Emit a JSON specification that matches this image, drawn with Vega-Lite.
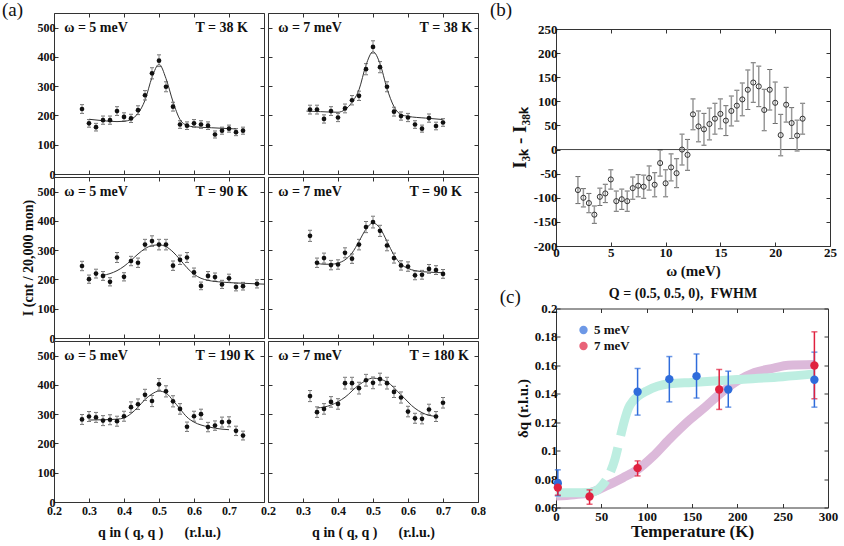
{
"$schema": "https://vega.github.io/schema/vega-lite/v6.json",
"background": "white",
"padding": {"left": 1, "top": 0, "right": 0, "bottom": 0},
"config": {
  "font": "Liberation Serif",
  "view": {"stroke": "#333", "strokeWidth": 1},
  "axis": {"labelFont": "Liberation Serif", "labelFontWeight": "bold", "labelFontSize": 12, "labelColor": "#111", "titleFont": "Liberation Serif", "titleFontWeight": "bold", "titleFontSize": 15, "titleColor": "#111", "tickSize": -4, "tickColor": "#333", "domain": false, "grid": false, "labelPadding": 3, "labelFlush": false, "labelOverlap": false, "minExtent": 0},
  "legend": {"labelFont": "Liberation Serif"}
},
"datasets": {
  "pts": [
    {"p":"TL","q":0.28,"I":222,"e":15},{"p":"TL","q":0.30,"I":173,"e":13},{"p":"TL","q":0.32,"I":160,"e":13},{"p":"TL","q":0.34,"I":184,"e":14},{"p":"TL","q":0.36,"I":184,"e":14},{"p":"TL","q":0.38,"I":215,"e":15},{"p":"TL","q":0.40,"I":195,"e":14},{"p":"TL","q":0.42,"I":190,"e":14},{"p":"TL","q":0.44,"I":218,"e":15},{"p":"TL","q":0.46,"I":269,"e":16},{"p":"TL","q":0.48,"I":344,"e":19},{"p":"TL","q":0.50,"I":387,"e":20},{"p":"TL","q":0.52,"I":298,"e":17},{"p":"TL","q":0.54,"I":230,"e":15},{"p":"TL","q":0.56,"I":169,"e":13},{"p":"TL","q":0.58,"I":165,"e":13},{"p":"TL","q":0.60,"I":173,"e":13},{"p":"TL","q":0.62,"I":169,"e":13},{"p":"TL","q":0.64,"I":165,"e":13},{"p":"TL","q":0.66,"I":135,"e":12},{"p":"TL","q":0.68,"I":148,"e":12},{"p":"TL","q":0.70,"I":155,"e":12},{"p":"TL","q":0.72,"I":143,"e":12},{"p":"TL","q":0.74,"I":148,"e":12},
    {"p":"TR","q":0.32,"I":220,"e":15},{"p":"TR","q":0.34,"I":220,"e":15},{"p":"TR","q":0.36,"I":188,"e":14},{"p":"TR","q":0.38,"I":215,"e":15},{"p":"TR","q":0.40,"I":193,"e":14},{"p":"TR","q":0.42,"I":224,"e":15},{"p":"TR","q":0.44,"I":252,"e":16},{"p":"TR","q":0.46,"I":267,"e":16},{"p":"TR","q":0.48,"I":358,"e":19},{"p":"TR","q":0.50,"I":434,"e":21},{"p":"TR","q":0.52,"I":365,"e":19},{"p":"TR","q":0.54,"I":298,"e":17},{"p":"TR","q":0.56,"I":213,"e":15},{"p":"TR","q":0.58,"I":198,"e":14},{"p":"TR","q":0.60,"I":193,"e":14},{"p":"TR","q":0.62,"I":169,"e":13},{"p":"TR","q":0.64,"I":155,"e":12},{"p":"TR","q":0.66,"I":191,"e":14},{"p":"TR","q":0.68,"I":164,"e":13},{"p":"TR","q":0.70,"I":176,"e":13},
    {"p":"ML","q":0.28,"I":246,"e":16},{"p":"ML","q":0.30,"I":201,"e":14},{"p":"ML","q":0.32,"I":220,"e":15},{"p":"ML","q":0.34,"I":212,"e":15},{"p":"ML","q":0.36,"I":192,"e":14},{"p":"ML","q":0.38,"I":275,"e":17},{"p":"ML","q":0.40,"I":209,"e":14},{"p":"ML","q":0.42,"I":263,"e":16},{"p":"ML","q":0.44,"I":257,"e":16},{"p":"ML","q":0.46,"I":319,"e":18},{"p":"ML","q":0.48,"I":331,"e":18},{"p":"ML","q":0.50,"I":319,"e":18},{"p":"ML","q":0.52,"I":319,"e":18},{"p":"ML","q":0.54,"I":247,"e":16},{"p":"ML","q":0.56,"I":267,"e":16},{"p":"ML","q":0.58,"I":275,"e":17},{"p":"ML","q":0.60,"I":224,"e":15},{"p":"ML","q":0.62,"I":178,"e":13},{"p":"ML","q":0.64,"I":212,"e":15},{"p":"ML","q":0.66,"I":208,"e":14},{"p":"ML","q":0.68,"I":183,"e":14},{"p":"ML","q":0.70,"I":204,"e":14},{"p":"ML","q":0.72,"I":174,"e":13},{"p":"ML","q":0.74,"I":177,"e":13},{"p":"ML","q":0.78,"I":185,"e":14},
    {"p":"MR","q":0.32,"I":349,"e":19},{"p":"MR","q":0.34,"I":257,"e":16},{"p":"MR","q":0.36,"I":273,"e":17},{"p":"MR","q":0.38,"I":249,"e":16},{"p":"MR","q":0.40,"I":251,"e":16},{"p":"MR","q":0.42,"I":291,"e":17},{"p":"MR","q":0.44,"I":271,"e":16},{"p":"MR","q":0.46,"I":319,"e":18},{"p":"MR","q":0.48,"I":379,"e":19},{"p":"MR","q":0.50,"I":396,"e":20},{"p":"MR","q":0.52,"I":366,"e":19},{"p":"MR","q":0.54,"I":316,"e":18},{"p":"MR","q":0.56,"I":273,"e":17},{"p":"MR","q":0.58,"I":248,"e":16},{"p":"MR","q":0.60,"I":244,"e":16},{"p":"MR","q":0.62,"I":214,"e":15},{"p":"MR","q":0.64,"I":216,"e":15},{"p":"MR","q":0.66,"I":236,"e":15},{"p":"MR","q":0.68,"I":232,"e":15},{"p":"MR","q":0.70,"I":219,"e":15},
    {"p":"BL","q":0.28,"I":282,"e":17},{"p":"BL","q":0.30,"I":292,"e":17},{"p":"BL","q":0.32,"I":289,"e":17},{"p":"BL","q":0.34,"I":278,"e":17},{"p":"BL","q":0.36,"I":281,"e":17},{"p":"BL","q":0.38,"I":276,"e":17},{"p":"BL","q":0.40,"I":293,"e":17},{"p":"BL","q":0.42,"I":324,"e":18},{"p":"BL","q":0.44,"I":334,"e":18},{"p":"BL","q":0.46,"I":366,"e":19},{"p":"BL","q":0.48,"I":345,"e":19},{"p":"BL","q":0.50,"I":402,"e":20},{"p":"BL","q":0.52,"I":378,"e":19},{"p":"BL","q":0.54,"I":344,"e":19},{"p":"BL","q":0.56,"I":318,"e":18},{"p":"BL","q":0.58,"I":257,"e":16},{"p":"BL","q":0.60,"I":293,"e":17},{"p":"BL","q":0.62,"I":300,"e":17},{"p":"BL","q":0.64,"I":256,"e":16},{"p":"BL","q":0.66,"I":261,"e":16},{"p":"BL","q":0.68,"I":273,"e":17},{"p":"BL","q":0.70,"I":274,"e":17},{"p":"BL","q":0.72,"I":243,"e":16},{"p":"BL","q":0.74,"I":227,"e":15},
    {"p":"BR","q":0.32,"I":362,"e":19},{"p":"BR","q":0.34,"I":307,"e":18},{"p":"BR","q":0.36,"I":318,"e":18},{"p":"BR","q":0.38,"I":342,"e":18},{"p":"BR","q":0.40,"I":335,"e":18},{"p":"BR","q":0.42,"I":406,"e":20},{"p":"BR","q":0.44,"I":406,"e":20},{"p":"BR","q":0.46,"I":389,"e":20},{"p":"BR","q":0.48,"I":416,"e":20},{"p":"BR","q":0.50,"I":407,"e":20},{"p":"BR","q":0.52,"I":420,"e":20},{"p":"BR","q":0.54,"I":406,"e":20},{"p":"BR","q":0.56,"I":376,"e":19},{"p":"BR","q":0.58,"I":357,"e":19},{"p":"BR","q":0.60,"I":309,"e":18},{"p":"BR","q":0.62,"I":286,"e":17},{"p":"BR","q":0.64,"I":284,"e":17},{"p":"BR","q":0.66,"I":316,"e":18},{"p":"BR","q":0.68,"I":292,"e":17},{"p":"BR","q":0.70,"I":339,"e":18}
  ],
  "fit": [
    {"p":"TL","q":0.30,"I":187},{"p":"TL","q":0.34,"I":182},{"p":"TL","q":0.38,"I":179},{"p":"TL","q":0.40,"I":180},{"p":"TL","q":0.42,"I":187},{"p":"TL","q":0.44,"I":207},{"p":"TL","q":0.46,"I":252},{"p":"TL","q":0.48,"I":330},{"p":"TL","q":0.50,"I":375},{"p":"TL","q":0.52,"I":326},{"p":"TL","q":0.54,"I":247},{"p":"TL","q":0.56,"I":186},{"p":"TL","q":0.58,"I":166},{"p":"TL","q":0.60,"I":161},{"p":"TL","q":0.65,"I":158},{"p":"TL","q":0.70,"I":155},{"p":"TL","q":0.72,"I":154},
    {"p":"TR","q":0.31,"I":215},{"p":"TR","q":0.35,"I":213},{"p":"TR","q":0.40,"I":211},{"p":"TR","q":0.42,"I":220},{"p":"TR","q":0.44,"I":245},{"p":"TR","q":0.46,"I":288},{"p":"TR","q":0.48,"I":372},{"p":"TR","q":0.50,"I":418},{"p":"TR","q":0.52,"I":377},{"p":"TR","q":0.54,"I":292},{"p":"TR","q":0.56,"I":230},{"p":"TR","q":0.58,"I":203},{"p":"TR","q":0.60,"I":197},{"p":"TR","q":0.65,"I":191},{"p":"TR","q":0.70,"I":186},
    {"p":"ML","q":0.34,"I":214},{"p":"ML","q":0.36,"I":220},{"p":"ML","q":0.38,"I":230},{"p":"ML","q":0.40,"I":245},{"p":"ML","q":0.42,"I":265},{"p":"ML","q":0.44,"I":287},{"p":"ML","q":0.46,"I":305},{"p":"ML","q":0.48,"I":316},{"p":"ML","q":0.50,"I":318},{"p":"ML","q":0.52,"I":312},{"p":"ML","q":0.54,"I":294},{"p":"ML","q":0.56,"I":268},{"p":"ML","q":0.58,"I":240},{"p":"ML","q":0.60,"I":218},{"p":"ML","q":0.62,"I":204},{"p":"ML","q":0.64,"I":197},{"p":"ML","q":0.68,"I":191},{"p":"ML","q":0.72,"I":188},{"p":"ML","q":0.76,"I":186},{"p":"ML","q":0.80,"I":184},
    {"p":"MR","q":0.34,"I":255},{"p":"MR","q":0.36,"I":252},{"p":"MR","q":0.38,"I":252},{"p":"MR","q":0.40,"I":256},{"p":"MR","q":0.42,"I":267},{"p":"MR","q":0.44,"I":290},{"p":"MR","q":0.46,"I":330},{"p":"MR","q":0.48,"I":372},{"p":"MR","q":0.50,"I":393},{"p":"MR","q":0.52,"I":375},{"p":"MR","q":0.54,"I":330},{"p":"MR","q":0.56,"I":283},{"p":"MR","q":0.58,"I":252},{"p":"MR","q":0.60,"I":238},{"p":"MR","q":0.62,"I":230},{"p":"MR","q":0.66,"I":225},{"p":"MR","q":0.70,"I":223},
    {"p":"BL","q":0.30,"I":280},{"p":"BL","q":0.34,"I":281},{"p":"BL","q":0.38,"I":283},{"p":"BL","q":0.40,"I":287},{"p":"BL","q":0.42,"I":302},{"p":"BL","q":0.44,"I":324},{"p":"BL","q":0.46,"I":350},{"p":"BL","q":0.48,"I":369},{"p":"BL","q":0.50,"I":379},{"p":"BL","q":0.52,"I":372},{"p":"BL","q":0.54,"I":347},{"p":"BL","q":0.56,"I":318},{"p":"BL","q":0.58,"I":290},{"p":"BL","q":0.60,"I":273},{"p":"BL","q":0.62,"I":263},{"p":"BL","q":0.64,"I":257},{"p":"BL","q":0.66,"I":252},{"p":"BL","q":0.70,"I":247},
    {"p":"BR","q":0.34,"I":321},{"p":"BR","q":0.38,"I":331},{"p":"BR","q":0.42,"I":358},{"p":"BR","q":0.46,"I":400},{"p":"BR","q":0.50,"I":423},{"p":"BR","q":0.54,"I":410},{"p":"BR","q":0.58,"I":366},{"p":"BR","q":0.62,"I":320},{"p":"BR","q":0.66,"I":296},{"p":"BR","q":0.68,"I":293}
  ],
  "lab": [
    {"p":"TL","w":"ω = 5 meV","t":"T = 38 K"},{"p":"TR","w":"ω = 7 meV","t":"T = 38 K"},
    {"p":"ML","w":"ω = 5 meV","t":"T = 90 K"},{"p":"MR","w":"ω = 7 meV","t":"T = 90 K"},
    {"p":"BL","w":"ω = 5 meV","t":"T = 190 K"},{"p":"BR","w":"ω = 7 meV","t":"T = 180 K"}
  ],
  "tag": [{"id":"a","txt":"(a)"},{"id":"b","txt":"(b)"},{"id":"c","txt":"(c)"},{"id":"q","txt":"Q = (0.5, 0.5, 0),\u00a0\u00a0FWHM"}],
  "b": [
    {"w":2.0,"d":-84,"e":28},{"w":2.5,"d":-100,"e":19},{"w":3.0,"d":-111,"e":20},{"w":3.5,"d":-135,"e":18},{"w":4.0,"d":-98,"e":18},{"w":4.5,"d":-91,"e":19},{"w":5.0,"d":-62,"e":20},{"w":5.5,"d":-107,"e":21},{"w":6.0,"d":-103,"e":21},{"w":6.5,"d":-107,"e":21},{"w":7.0,"d":-80,"e":23},{"w":7.5,"d":-75,"e":23},{"w":8.0,"d":-77,"e":24},{"w":8.5,"d":-59,"e":25},{"w":9.0,"d":-73,"e":25},{"w":9.5,"d":-28,"e":27},{"w":10.0,"d":-70,"e":28},{"w":10.5,"d":-37,"e":28},{"w":11.0,"d":-49,"e":30},{"w":11.5,"d":0,"e":32},{"w":12.0,"d":-11,"e":32},{"w":12.5,"d":73,"e":32},{"w":13.0,"d":48,"e":32},{"w":13.5,"d":42,"e":33},{"w":14.0,"d":53,"e":33},{"w":14.5,"d":64,"e":32},{"w":15.0,"d":74,"e":31},{"w":15.5,"d":60,"e":31},{"w":16.0,"d":80,"e":31},{"w":16.5,"d":91,"e":32},{"w":17.0,"d":104,"e":34},{"w":17.5,"d":124,"e":41},{"w":18.0,"d":139,"e":41},{"w":18.5,"d":131,"e":42},{"w":19.0,"d":82,"e":43},{"w":19.5,"d":124,"e":42},{"w":20.0,"d":97,"e":43},{"w":20.5,"d":30,"e":43},{"w":21.0,"d":93,"e":36},{"w":21.5,"d":55,"e":32},{"w":22.0,"d":29,"e":32},{"w":22.5,"d":64,"e":32}
  ],
  "c": [
    {"s":"5 meV","T":2,"dq":0.0771,"lo":0.0682,"hi":0.0865},{"s":"5 meV","T":90,"dq":0.1414,"lo":0.125,"hi":0.1578},{"s":"5 meV","T":125,"dq":0.1503,"lo":0.1343,"hi":0.1662},{"s":"5 meV","T":155,"dq":0.1524,"lo":0.137,"hi":0.168},{"s":"5 meV","T":190,"dq":0.143,"lo":0.1306,"hi":0.1559},{"s":"5 meV","T":285,"dq":0.1499,"lo":0.1306,"hi":0.1693},
    {"s":"7 meV","T":2,"dq":0.074,"lo":0.0687,"hi":0.0787},{"s":"7 meV","T":37,"dq":0.0677,"lo":0.0623,"hi":0.0724},{"s":"7 meV","T":90,"dq":0.0877,"lo":0.0822,"hi":0.0928},{"s":"7 meV","T":180,"dq":0.143,"lo":0.129,"hi":0.1571},{"s":"7 meV","T":285,"dq":0.1599,"lo":0.1365,"hi":0.1836}
  ],
  "cfit": [
    {"s":"5 meV","T":0,"dq":0.0703},{"s":"5 meV","T":20,"dq":0.0703},{"s":"5 meV","T":37,"dq":0.0705},{"s":"5 meV","T":45,"dq":0.072},{"s":"5 meV","T":50,"dq":0.075},{"s":"5 meV","T":55,"dq":0.079},{"s":"5 meV","T":60,"dq":0.085},{"s":"5 meV","T":65,"dq":0.094},{"s":"5 meV","T":70,"dq":0.107},{"s":"5 meV","T":75,"dq":0.12},{"s":"5 meV","T":80,"dq":0.13},{"s":"5 meV","T":85,"dq":0.135},{"s":"5 meV","T":90,"dq":0.138},{"s":"5 meV","T":100,"dq":0.142},{"s":"5 meV","T":125,"dq":0.147},{"s":"5 meV","T":150,"dq":0.148},{"s":"5 meV","T":200,"dq":0.15},{"s":"5 meV","T":250,"dq":0.152},{"s":"5 meV","T":285,"dq":0.154},
    {"s":"7 meV","T":0,"dq":0.068},{"s":"7 meV","T":20,"dq":0.069},{"s":"7 meV","T":37,"dq":0.0703},{"s":"7 meV","T":55,"dq":0.075},{"s":"7 meV","T":74,"dq":0.081},{"s":"7 meV","T":90,"dq":0.0867},{"s":"7 meV","T":107,"dq":0.096},{"s":"7 meV","T":125,"dq":0.108},{"s":"7 meV","T":148,"dq":0.122},{"s":"7 meV","T":165,"dq":0.131},{"s":"7 meV","T":180,"dq":0.1395},{"s":"7 meV","T":200,"dq":0.149},{"s":"7 meV","T":219,"dq":0.155},{"s":"7 meV","T":240,"dq":0.158},{"s":"7 meV","T":256,"dq":0.16},{"s":"7 meV","T":285,"dq":0.1606}
  ]
},
"columns": 2,
"align": "none",
"spacing": 4,
"resolve": {"scale": {"color": "independent"}, "legend": {"color": "independent"}},
"concat": [
{
  "columns": 2,
  "spacing": {"row": 3, "column": 4},
  "bounds": "flush",
  "concat": [
    {"width": 210, "height": 161,
     "layer": [
      {"data": {"name": "fit"}, "transform": [{"filter": "datum.p == 'TL'"}], "mark": {"type": "line", "color": "#333", "strokeWidth": 1, "interpolate": "monotone"},
       "encoding": {"x": {"field": "q", "type": "quantitative", "scale": {"domain": [0.2, 0.8]}, "axis": {"orient": "top", "values": [0.2,0.3,0.4,0.5,0.6,0.7,0.8], "labels": false, "title": null}},
                    "y": {"field": "I", "type": "quantitative", "scale": {"domain": [0, 550]}, "axis": {"orient": "right", "values": [0,100,200,300,400,500], "labels": false, "title": null}}}},
      {"data": {"name": "pts"}, "transform": [{"filter": "datum.p == 'TL'"}], "mark": {"type": "errorbar", "ticks": {"size": 4, "color": "#333"}, "rule": {"color": "#999", "strokeWidth": 1.2}},
       "encoding": {"x": {"field": "q", "type": "quantitative", "axis": null}, "y": {"field": "I", "type": "quantitative", "axis": null}, "yError": {"field": "e"}}},
      {"data": {"name": "pts"}, "transform": [{"filter": "datum.p == 'TL'"}], "mark": {"type": "circle", "size": 22, "color": "#111", "opacity": 1},
       "encoding": {"x": {"field": "q", "type": "quantitative", "axis": {"orient": "bottom", "values": [0.2,0.3,0.4,0.5,0.6,0.7,0.8], "labels": false, "title": null}},
                    "y": {"field": "I", "type": "quantitative", "axis": {"orient": "left", "values": [0,100,200,300,400,500], "title": null}}}},
      {"data": {"name": "lab"}, "transform": [{"filter": "datum.p == 'TL'"}], "mark": {"type": "text", "align": "left", "baseline": "middle", "fontSize": 14, "fontWeight": "bold", "color": "#111"},
       "encoding": {"x": {"datum": 0.229, "axis": null}, "y": {"datum": 500, "axis": null}, "text": {"field": "w"}}},
      {"data": {"name": "lab"}, "transform": [{"filter": "datum.p == 'TL'"}], "mark": {"type": "text", "align": "right", "baseline": "middle", "fontSize": 14, "fontWeight": "bold", "color": "#111"},
       "encoding": {"x": {"datum": 0.754, "axis": null}, "y": {"datum": 500, "axis": null}, "text": {"field": "t"}}},
      {"data": {"name": "tag"}, "transform": [{"filter": "datum.id == 'a'"}], "mark": {"type": "text", "align": "left", "baseline": "middle", "fontSize": 19, "color": "#111"},
       "encoding": {"x": {"datum": 0.0514, "axis": null}, "y": {"datum": 560, "axis": null}, "text": {"field": "txt"}}}
     ],
     "resolve": {"axis": {"x": "independent", "y": "independent"}}},
    {"width": 210, "height": 161,
     "layer": [
      {"data": {"name": "fit"}, "transform": [{"filter": "datum.p == 'TR'"}], "mark": {"type": "line", "color": "#333", "strokeWidth": 1, "interpolate": "monotone"},
       "encoding": {"x": {"field": "q", "type": "quantitative", "scale": {"domain": [0.2, 0.8]}, "axis": {"orient": "top", "values": [0.2,0.3,0.4,0.5,0.6,0.7,0.8], "labels": false, "title": null}},
                    "y": {"field": "I", "type": "quantitative", "scale": {"domain": [0, 550]}, "axis": {"orient": "right", "values": [0,100,200,300,400,500], "labels": false, "title": null}}}},
      {"data": {"name": "pts"}, "transform": [{"filter": "datum.p == 'TR'"}], "mark": {"type": "errorbar", "ticks": {"size": 4, "color": "#333"}, "rule": {"color": "#999", "strokeWidth": 1.2}},
       "encoding": {"x": {"field": "q", "type": "quantitative", "axis": null}, "y": {"field": "I", "type": "quantitative", "axis": null}, "yError": {"field": "e"}}},
      {"data": {"name": "pts"}, "transform": [{"filter": "datum.p == 'TR'"}], "mark": {"type": "circle", "size": 22, "color": "#111", "opacity": 1},
       "encoding": {"x": {"field": "q", "type": "quantitative", "axis": {"orient": "bottom", "values": [0.2,0.3,0.4,0.5,0.6,0.7,0.8], "labels": false, "title": null}},
                    "y": {"field": "I", "type": "quantitative", "axis": {"orient": "left", "values": [0,100,200,300,400,500], "labels": false, "title": null}}}},
      {"data": {"name": "lab"}, "transform": [{"filter": "datum.p == 'TR'"}], "mark": {"type": "text", "align": "left", "baseline": "middle", "fontSize": 14, "fontWeight": "bold", "color": "#111"},
       "encoding": {"x": {"datum": 0.229, "axis": null}, "y": {"datum": 500, "axis": null}, "text": {"field": "w"}}},
      {"data": {"name": "lab"}, "transform": [{"filter": "datum.p == 'TR'"}], "mark": {"type": "text", "align": "right", "baseline": "middle", "fontSize": 14, "fontWeight": "bold", "color": "#111"},
       "encoding": {"x": {"datum": 0.783, "axis": null}, "y": {"datum": 500, "axis": null}, "text": {"field": "t"}}}
     ],
     "resolve": {"axis": {"x": "independent", "y": "independent"}}},
    {"width": 210, "height": 161,
     "layer": [
      {"data": {"name": "fit"}, "transform": [{"filter": "datum.p == 'ML'"}], "mark": {"type": "line", "color": "#333", "strokeWidth": 1, "interpolate": "monotone"},
       "encoding": {"x": {"field": "q", "type": "quantitative", "scale": {"domain": [0.2, 0.8]}, "axis": {"orient": "top", "values": [0.2,0.3,0.4,0.5,0.6,0.7,0.8], "labels": false, "title": null}},
                    "y": {"field": "I", "type": "quantitative", "scale": {"domain": [0, 550]}, "axis": {"orient": "right", "values": [0,100,200,300,400,500], "labels": false, "title": null}}}},
      {"data": {"name": "pts"}, "transform": [{"filter": "datum.p == 'ML'"}], "mark": {"type": "errorbar", "ticks": {"size": 4, "color": "#333"}, "rule": {"color": "#999", "strokeWidth": 1.2}},
       "encoding": {"x": {"field": "q", "type": "quantitative", "axis": null}, "y": {"field": "I", "type": "quantitative", "axis": null}, "yError": {"field": "e"}}},
      {"data": {"name": "pts"}, "transform": [{"filter": "datum.p == 'ML'"}], "mark": {"type": "circle", "size": 22, "color": "#111", "opacity": 1},
       "encoding": {"x": {"field": "q", "type": "quantitative", "axis": {"orient": "bottom", "values": [0.2,0.3,0.4,0.5,0.6,0.7,0.8], "labels": false, "title": null}},
                    "y": {"field": "I", "type": "quantitative", "axis": {"orient": "left", "values": [0,100,200,300,400,500], "title": "I (cnt / 20,000 mon)", "titleFontSize": 14, "titlePadding": 2}}}},
      {"data": {"name": "lab"}, "transform": [{"filter": "datum.p == 'ML'"}], "mark": {"type": "text", "align": "left", "baseline": "middle", "fontSize": 14, "fontWeight": "bold", "color": "#111"},
       "encoding": {"x": {"datum": 0.229, "axis": null}, "y": {"datum": 500, "axis": null}, "text": {"field": "w"}}},
      {"data": {"name": "lab"}, "transform": [{"filter": "datum.p == 'ML'"}], "mark": {"type": "text", "align": "right", "baseline": "middle", "fontSize": 14, "fontWeight": "bold", "color": "#111"},
       "encoding": {"x": {"datum": 0.754, "axis": null}, "y": {"datum": 500, "axis": null}, "text": {"field": "t"}}}
     ],
     "resolve": {"axis": {"x": "independent", "y": "independent"}}},
    {"width": 210, "height": 161,
     "layer": [
      {"data": {"name": "fit"}, "transform": [{"filter": "datum.p == 'MR'"}], "mark": {"type": "line", "color": "#333", "strokeWidth": 1, "interpolate": "monotone"},
       "encoding": {"x": {"field": "q", "type": "quantitative", "scale": {"domain": [0.2, 0.8]}, "axis": {"orient": "top", "values": [0.2,0.3,0.4,0.5,0.6,0.7,0.8], "labels": false, "title": null}},
                    "y": {"field": "I", "type": "quantitative", "scale": {"domain": [0, 550]}, "axis": {"orient": "right", "values": [0,100,200,300,400,500], "labels": false, "title": null}}}},
      {"data": {"name": "pts"}, "transform": [{"filter": "datum.p == 'MR'"}], "mark": {"type": "errorbar", "ticks": {"size": 4, "color": "#333"}, "rule": {"color": "#999", "strokeWidth": 1.2}},
       "encoding": {"x": {"field": "q", "type": "quantitative", "axis": null}, "y": {"field": "I", "type": "quantitative", "axis": null}, "yError": {"field": "e"}}},
      {"data": {"name": "pts"}, "transform": [{"filter": "datum.p == 'MR'"}], "mark": {"type": "circle", "size": 22, "color": "#111", "opacity": 1},
       "encoding": {"x": {"field": "q", "type": "quantitative", "axis": {"orient": "bottom", "values": [0.2,0.3,0.4,0.5,0.6,0.7,0.8], "labels": false, "title": null}},
                    "y": {"field": "I", "type": "quantitative", "axis": {"orient": "left", "values": [0,100,200,300,400,500], "labels": false, "title": null}}}},
      {"data": {"name": "lab"}, "transform": [{"filter": "datum.p == 'MR'"}], "mark": {"type": "text", "align": "left", "baseline": "middle", "fontSize": 14, "fontWeight": "bold", "color": "#111"},
       "encoding": {"x": {"datum": 0.229, "axis": null}, "y": {"datum": 500, "axis": null}, "text": {"field": "w"}}},
      {"data": {"name": "lab"}, "transform": [{"filter": "datum.p == 'MR'"}], "mark": {"type": "text", "align": "right", "baseline": "middle", "fontSize": 14, "fontWeight": "bold", "color": "#111"},
       "encoding": {"x": {"datum": 0.754, "axis": null}, "y": {"datum": 500, "axis": null}, "text": {"field": "t"}}}
     ],
     "resolve": {"axis": {"x": "independent", "y": "independent"}}},
    {"width": 210, "height": 161,
     "layer": [
      {"data": {"name": "fit"}, "transform": [{"filter": "datum.p == 'BL'"}], "mark": {"type": "line", "color": "#333", "strokeWidth": 1, "interpolate": "monotone"},
       "encoding": {"x": {"field": "q", "type": "quantitative", "scale": {"domain": [0.2, 0.8]}, "axis": {"orient": "top", "values": [0.2,0.3,0.4,0.5,0.6,0.7,0.8], "labels": false, "title": null}},
                    "y": {"field": "I", "type": "quantitative", "scale": {"domain": [0, 550]}, "axis": {"orient": "right", "values": [0,100,200,300,400,500], "labels": false, "title": null}}}},
      {"data": {"name": "pts"}, "transform": [{"filter": "datum.p == 'BL'"}], "mark": {"type": "errorbar", "ticks": {"size": 4, "color": "#333"}, "rule": {"color": "#999", "strokeWidth": 1.2}},
       "encoding": {"x": {"field": "q", "type": "quantitative", "axis": null}, "y": {"field": "I", "type": "quantitative", "axis": null}, "yError": {"field": "e"}}},
      {"data": {"name": "pts"}, "transform": [{"filter": "datum.p == 'BL'"}], "mark": {"type": "circle", "size": 22, "color": "#111", "opacity": 1},
       "encoding": {"x": {"field": "q", "type": "quantitative", "axis": {"orient": "bottom", "values": [0.2,0.3,0.4,0.5,0.6,0.7,0.8], "labelPadding": 7, "labelExpr": "datum.value > 0.75 ? '' : datum.label", "title": "q in ( q,  q )\u00a0\u00a0\u00a0\u00a0\u00a0\u00a0(r.l.u.)", "titleFontSize": 14, "titlePadding": 9}},
                    "y": {"field": "I", "type": "quantitative", "axis": {"orient": "left", "values": [0,100,200,300,400,500], "title": null}}}},
      {"data": {"name": "lab"}, "transform": [{"filter": "datum.p == 'BL'"}], "mark": {"type": "text", "align": "left", "baseline": "middle", "fontSize": 14, "fontWeight": "bold", "color": "#111"},
       "encoding": {"x": {"datum": 0.229, "axis": null}, "y": {"datum": 500, "axis": null}, "text": {"field": "w"}}},
      {"data": {"name": "lab"}, "transform": [{"filter": "datum.p == 'BL'"}], "mark": {"type": "text", "align": "right", "baseline": "middle", "fontSize": 14, "fontWeight": "bold", "color": "#111"},
       "encoding": {"x": {"datum": 0.774, "axis": null}, "y": {"datum": 500, "axis": null}, "text": {"field": "t"}}}
     ],
     "resolve": {"axis": {"x": "independent", "y": "independent"}}},
    {"width": 210, "height": 161,
     "layer": [
      {"data": {"name": "fit"}, "transform": [{"filter": "datum.p == 'BR'"}], "mark": {"type": "line", "color": "#333", "strokeWidth": 1, "interpolate": "monotone"},
       "encoding": {"x": {"field": "q", "type": "quantitative", "scale": {"domain": [0.2, 0.8]}, "axis": {"orient": "top", "values": [0.2,0.3,0.4,0.5,0.6,0.7,0.8], "labels": false, "title": null}},
                    "y": {"field": "I", "type": "quantitative", "scale": {"domain": [0, 550]}, "axis": {"orient": "right", "values": [0,100,200,300,400,500], "labels": false, "title": null}}}},
      {"data": {"name": "pts"}, "transform": [{"filter": "datum.p == 'BR'"}], "mark": {"type": "errorbar", "ticks": {"size": 4, "color": "#333"}, "rule": {"color": "#999", "strokeWidth": 1.2}},
       "encoding": {"x": {"field": "q", "type": "quantitative", "axis": null}, "y": {"field": "I", "type": "quantitative", "axis": null}, "yError": {"field": "e"}}},
      {"data": {"name": "pts"}, "transform": [{"filter": "datum.p == 'BR'"}], "mark": {"type": "circle", "size": 22, "color": "#111", "opacity": 1},
       "encoding": {"x": {"field": "q", "type": "quantitative", "axis": {"orient": "bottom", "values": [0.2,0.3,0.4,0.5,0.6,0.7,0.8], "labelPadding": 7, "title": "q in ( q,  q )\u00a0\u00a0\u00a0\u00a0\u00a0\u00a0(r.l.u.)", "titleFontSize": 14, "titlePadding": 9}},
                    "y": {"field": "I", "type": "quantitative", "axis": {"orient": "left", "values": [0,100,200,300,400,500], "labels": false, "title": null}}}},
      {"data": {"name": "lab"}, "transform": [{"filter": "datum.p == 'BR'"}], "mark": {"type": "text", "align": "left", "baseline": "middle", "fontSize": 14, "fontWeight": "bold", "color": "#111"},
       "encoding": {"x": {"datum": 0.229, "axis": null}, "y": {"datum": 500, "axis": null}, "text": {"field": "w"}}},
      {"data": {"name": "lab"}, "transform": [{"filter": "datum.p == 'BR'"}], "mark": {"type": "text", "align": "right", "baseline": "middle", "fontSize": 14, "fontWeight": "bold", "color": "#111"},
       "encoding": {"x": {"datum": 0.774, "axis": null}, "y": {"datum": 500, "axis": null}, "text": {"field": "t"}}}
     ],
     "resolve": {"axis": {"x": "independent", "y": "independent"}}}
  ]
},
{
  "spacing": 7.5,
  "resolve": {"scale": {"color": "independent"}, "legend": {"color": "independent"}},
  "vconcat": [
    {
     "spacing": 8,
     "bounds": "flush",
     "vconcat": [
      {"width": 274, "height": 8, "view": {"stroke": null},
       "data": {"name": "tag"}, "transform": [{"filter": "datum.id == 'b'"}],
       "mark": {"type": "text", "align": "left", "baseline": "middle", "fontSize": 19, "color": "#111"},
       "encoding": {"x": {"datum": -6.02, "type": "quantitative", "scale": {"domain": [0, 25], "nice": false}, "axis": null}, "y": {"datum": 11, "type": "quantitative", "scale": {"domain": [0, 8], "nice": false}, "axis": null}, "text": {"field": "txt"}}},
      {"width": 274, "height": 217,
       "layer": [
        {"data": {"values": [{}]}, "mark": {"type": "rule", "color": "#444", "strokeWidth": 1},
         "encoding": {"x": {"datum": 0, "scale": {"domain": [0, 25]}, "axis": {"orient": "top", "values": [0,5,10,15,20,25], "labels": false, "title": null}}, "x2": {"datum": 25},
                      "y": {"datum": 0, "scale": {"domain": [-200, 250]}, "axis": {"orient": "right", "values": [-200,-150,-100,-50,0,50,100,150,200,250], "labels": false, "title": null}}}},
        {"data": {"name": "b"}, "mark": {"type": "errorbar", "ticks": {"size": 5, "color": "#222"}, "rule": {"color": "#999", "strokeWidth": 1.5}},
         "encoding": {"x": {"field": "w", "type": "quantitative", "axis": null, "scale": {"domain": [0, 25]}}, "y": {"field": "d", "type": "quantitative", "axis": null, "scale": {"domain": [-200, 250]}}, "yError": {"field": "e"}}},
        {"data": {"name": "b"}, "mark": {"type": "point", "shape": "circle", "filled": false, "size": 26, "color": "#333", "strokeWidth": 1, "opacity": 1},
         "encoding": {"x": {"field": "w", "type": "quantitative", "scale": {"domain": [0, 25]}, "axis": {"orient": "bottom", "values": [0,5,10,15,20,25], "labelFontSize": 13, "labelPadding": 4, "title": "ω (meV)", "titlePadding": 4}},
                      "y": {"field": "d", "type": "quantitative", "scale": {"domain": [-200, 250]}, "axis": {"orient": "left", "values": [-200,-150,-100,-50,0,50,100,150,200,250], "labelFontSize": 13, "labelExpr": "datum.value < 0 ? '-' + abs(datum.value) : datum.label", "title": "I₃ₖ - I₃₈ₖ", "titleFontSize": 19, "titlePadding": 4}}}}
       ],
       "resolve": {"axis": {"x": "independent", "y": "independent"}}}
     ]
    },
    {"width": 272, "height": 199,
     "layer": [
      {"data": {"name": "cfit"}, "transform": [{"filter": "datum.s == '7 meV'"}], "mark": {"type": "line", "color": "#dcb9da", "strokeWidth": 9, "strokeCap": "butt", "interpolate": "monotone"},
       "encoding": {"x": {"field": "T", "type": "quantitative", "axis": null, "scale": {"domain": [0, 300]}}, "y": {"field": "dq", "type": "quantitative", "axis": null, "scale": {"domain": [0.06, 0.2], "zero": false}}}},
      {"data": {"name": "cfit"}, "transform": [{"filter": "datum.s == '5 meV'"}], "mark": {"type": "line", "color": "#bdeee1", "strokeWidth": 9, "strokeCap": "butt", "interpolate": "monotone", "strokeDash": [55, 10, 25, 12, 3000]},
       "encoding": {"x": {"field": "T", "type": "quantitative", "axis": null, "scale": {"domain": [0, 300]}}, "y": {"field": "dq", "type": "quantitative", "axis": null, "scale": {"domain": [0.06, 0.2], "zero": false}}}},
      {"data": {"name": "c"}, "mark": {"type": "errorbar", "ticks": {"size": 6}, "rule": {"strokeWidth": 1.5}, "thickness": 1.5},
       "encoding": {"x": {"field": "T", "type": "quantitative", "axis": null, "scale": {"domain": [0, 300]}}, "y": {"field": "lo", "type": "quantitative", "axis": null, "scale": {"domain": [0.06, 0.2], "zero": false}}, "y2": {"field": "hi"},
                    "color": {"field": "s", "type": "nominal", "scale": {"domain": ["5 meV", "7 meV"], "range": ["#2f6cdb", "#e0213f"]},
                              "legend": {"title": null, "orient": "none", "legendX": 18, "legendY": 12, "padding": 3, "labelFontWeight": "bold", "labelFontSize": 13, "labelColor": "#111", "symbolType": "circle", "symbolSize": 70, "symbolStrokeWidth": 0}}}},
      {"data": {"name": "c"}, "mark": {"type": "circle", "size": 70, "opacity": 1},
       "encoding": {"x": {"field": "T", "type": "quantitative", "scale": {"domain": [0, 300]}, "axis": {"orient": "bottom", "values": [0,50,100,150,200,250,300], "labelFontSize": 13, "labelPadding": 7, "title": "Temperature (K)", "titleFontSize": 17, "titlePadding": 0}},
                    "y": {"field": "dq", "type": "quantitative", "scale": {"domain": [0.06, 0.2], "zero": false}, "axis": {"orient": "left", "values": [0.06,0.08,0.1,0.12,0.14,0.16,0.18,0.2], "format": "~g", "labelFontSize": 13, "title": "δq (r.l.u.)", "titleFontSize": 15, "titlePadding": 4}},
                    "color": {"field": "s", "type": "nominal", "scale": {"domain": ["5 meV", "7 meV"], "range": ["#2f6cdb", "#e0213f"]},
                              "legend": {"title": null, "orient": "none", "legendX": 18, "legendY": 12, "padding": 3, "labelFontWeight": "bold", "labelFontSize": 13, "labelColor": "#111", "symbolType": "circle", "symbolSize": 70, "symbolStrokeWidth": 0}}}},
      {"data": {"name": "tag"}, "transform": [{"filter": "datum.id == 'q'"}], "mark": {"type": "text", "align": "center", "baseline": "middle", "fontSize": 14, "fontWeight": "bold", "color": "#111"},
       "encoding": {"x": {"datum": 140, "axis": null}, "y": {"datum": 0.2099, "axis": null}, "text": {"field": "txt"}}},
      {"data": {"name": "tag"}, "transform": [{"filter": "datum.id == 'c'"}], "mark": {"type": "text", "align": "left", "baseline": "middle", "fontSize": 19, "color": "#111"},
       "encoding": {"x": {"datum": -62, "axis": {"orient": "top", "values": [0,50,100,150,200,250,300], "labels": false, "title": null}}, "y": {"datum": 0.2084, "axis": {"orient": "right", "values": [0.06,0.08,0.1,0.12,0.14,0.16,0.18,0.2], "labels": false, "title": null}}, "text": {"field": "txt"}}}
     ],
     "resolve": {"axis": {"x": "independent", "y": "independent"}}}
  ]
}
]
}
